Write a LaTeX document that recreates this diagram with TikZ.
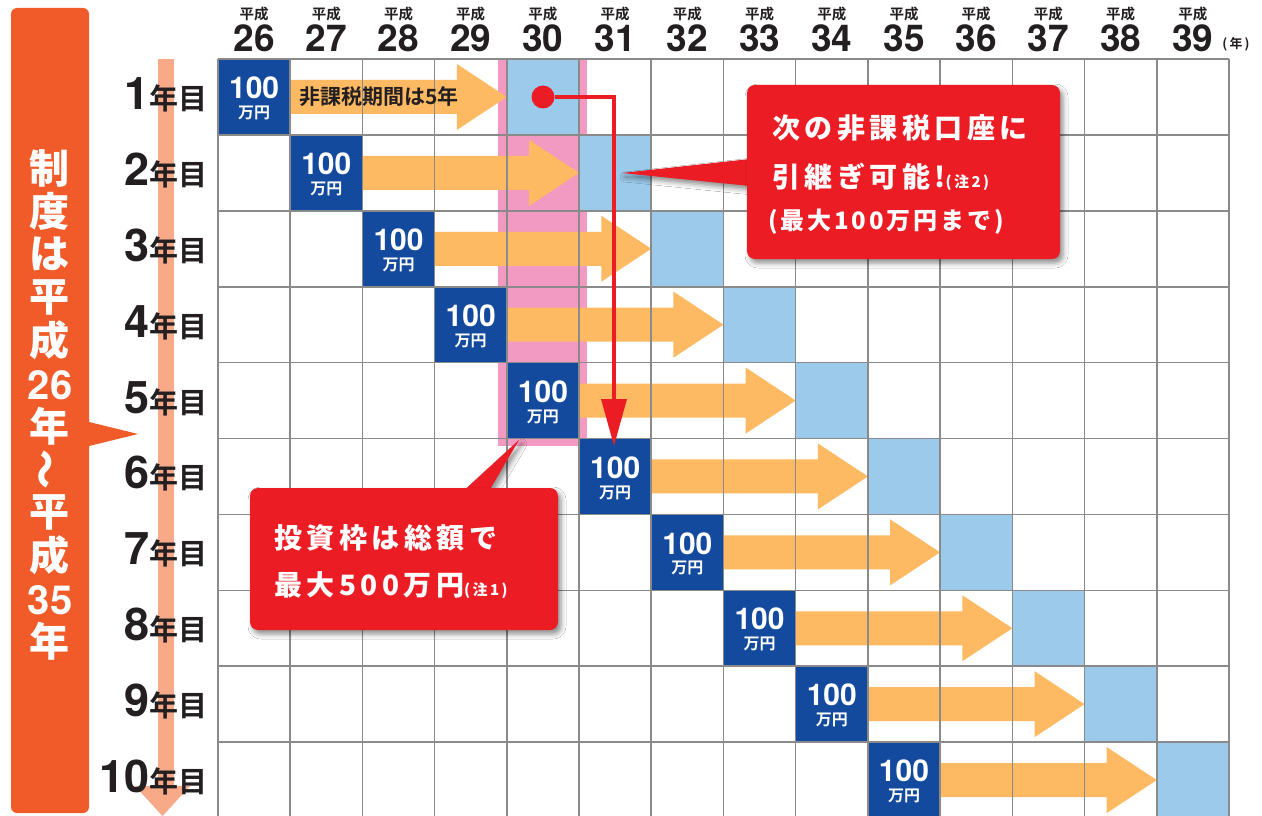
\documentclass[tikz,border=0pt]{standalone}
\usepackage{fontspec}
\usetikzlibrary{arrows.meta,shadows.blur}
\newfontfamily\jpfont{Noto Sans CJK JP Bold}
\newfontfamily\jpheavy{Noto Sans CJK JP Black}
\newfontfamily\numfont{TeX Gyre Heros}
\newcommand{\fsz}[1]{\fontsize{#1}{#1}\selectfont}
\newcommand{\bignum}[1]{{\numfont\bfseries #1}}

\definecolor{bannerorange}{HTML}{F15B2A}
\definecolor{salmon}{HTML}{F8AA88}
\definecolor{boxblue}{HTML}{134A9D}
\definecolor{paleblue}{HTML}{9BCAEA}
\definecolor{flow}{HTML}{FDBA63}
\definecolor{bandpink}{HTML}{F29AC1}
\definecolor{alertred}{HTML}{EC1C24}
\definecolor{gridgray}{HTML}{8A8A8A}
\definecolor{ink}{HTML}{231F20}

\tikzset{
  cell/.style={inner sep=0pt, outer sep=0pt, minimum width=72.21pt, minimum height=75.9pt},
  invest/.style={cell, fill=boxblue},
  rollover/.style={cell, fill=paleblue},
  flowarrow/.style={fill=flow},
  gridline/.style={draw=gridgray, line width=1.6pt},
  banner/.style={fill=bannerorange, rounded corners=6pt, inner sep=0pt,
    minimum width=78pt, minimum height=805pt},
  bannertext/.style={text=white, font=\jpheavy\fsz{40}, inner sep=0pt},
  noteshadow/.style={blur shadow={shadow xshift=3pt, shadow yshift=-4pt,
    shadow blur radius=5pt, shadow opacity=45}},
  callout/.style={fill=alertred, rounded corners=8pt, inner sep=0pt, noteshadow},
  notetext/.style={anchor=west, text=white, inner sep=0pt,
    font=\jpheavy\fsz{28}\addfontfeature{LetterSpace=16}}
}

\begin{document}
\begin{tikzpicture}[x=1pt,y=-1pt]
  \fill[white] (0,0) rectangle (1262,816);
  \useasboundingbox (0,0) rectangle (1262,816);

  % period banner on the left
  \fill[bannerorange] (85,421) -- (138,434) -- (85,447) -- cycle;
  \node[banner] (span) at (50,410.5) {};
  \foreach \y/\t in {168/制,211/度,254/は,297/平,340/成,426/年,512/平,555/成,641/年}
    \node[bannertext] (ban\y) at (50,\y) {\t};
  \node[bannertext, font=\numfont\bfseries\fsz{40}] (from) at (50,385) {26};
  \node[bannertext, rotate=90] (wave) at (50,469) {〜};
  \node[bannertext, font=\numfont\bfseries\fsz{40}] (until) at (50,600) {35};

  % timeline arrow
  \fill[salmon] (158,59) rectangle (174,787);
  \fill[salmon] (135,786) -- (190,786) -- (162.5,816) -- cycle;

  % row labels
  \foreach \r in {1,...,10}
    \node[anchor=base east, text=ink, inner sep=0pt] (row\r) at (208,{59+(\r-0.5)*75.9+12.5})
      {\bignum{\fsz{45}\r}\jpfont\fsz{29}年目};

  % years on top
  \foreach \i in {0,...,13}{
    \pgfmathtruncatemacro\yr{26+\i}
    \node[font=\jpfont\fsz{14.5}, text=ink] (era\i) at ({218+(\i+0.5)*72.21},14) {平成};
    \node[anchor=base, font=\numfont\bfseries\fsz{37}, text=ink, inner sep=0pt] (yr\i)
      at ({218+(\i+0.5)*72.21},52) {\yr};
  }
  \node[font=\jpfont\fsz{13}, text=ink] (unit) at (1236,44) {(\,年\,)};

  % band of year 30
  \fill[bandpink] (498,58) rectangle (587,446);

  % boxes and flows
  \foreach \r in {1,...,10}{
    \node[invest] (in\r) at ({218+(\r-0.5)*72.21},{59+(\r-0.5)*75.9}) {};
    \node[rollover] (out\r) at ({218+(\r+3.5)*72.21},{59+(\r-0.5)*75.9}) {};
    \fill[flowarrow] ([yshift=17pt]in\r.east) -- ([xshift=-50pt,yshift=17pt]out\r.west)
      -- ([xshift=-50pt,yshift=33pt]out\r.west) -- (out\r.west)
      -- ([xshift=-50pt,yshift=-33pt]out\r.west) -- ([xshift=-50pt,yshift=-17pt]out\r.west)
      -- ([yshift=-17pt]in\r.east) -- cycle;
  }

  % grid
  \foreach \i in {0,...,14}
    \draw[gridline] ({218+\i*72.21},59) -- ({218+\i*72.21},818);
  \foreach \j in {0,...,10}
    \draw[gridline] (218,{59+\j*75.9}) -- (1229,{59+\j*75.9});

  % amounts
  \foreach \r in {1,...,10}{
    \node[font=\numfont\bfseries\fsz{30}, text=white] (amt\r) at ([yshift=9pt]in\r.center) {100};
    \node[font=\jpfont\fsz{16}, text=white] (yen\r) at ([yshift=-16pt]in\r.center) {万円};
  }
  \node[anchor=west, font=\jpfont\fsz{21}, text=ink, inner sep=0pt] (period) at (299,97) {非課税期間は5年};

  % carry-over
  \node[circle, fill=alertred, minimum size=23pt, inner sep=0pt] (dot) at (543,97) {};
  \coordinate (drop) at (614,446);
  \draw[alertred, line width=3.5pt, -{Triangle[length=47pt,width=25pt]}] (dot) -| (drop);

  % notes
  \coordinate (tip1) at (622,173);
  \fill[alertred, noteshadow] (tip1) -- (750,159) -- (750,186) -- cycle;
  \node[callout, minimum width=313pt, minimum height=174pt] (note1) at (903.5,172) {};
  \node[notetext] (n1a) at (772,128) {次の非課税口座に};
  \node[notetext] (n1b) at (772,177) {引継ぎ可能!{\fsz{15}(注2)}};
  \node[notetext, font=\jpheavy\fsz{24}\addfontfeature{LetterSpace=12}] (n1c) at (768,222) {(最大100万円まで)};

  \coordinate (tip2) at (519,440);
  \fill[alertred, noteshadow] (tip2) -- (458,496) -- (486,496) -- cycle;
  \node[callout, minimum width=308pt, minimum height=142pt] (note2) at (404,559) {};
  \node[notetext] (n2a) at (274,538) {投資枠は総額で};
  \node[notetext] (n2b) at (274,585) {最大500万円{\fsz{15}(注1)}};
\end{tikzpicture}
\end{document}
